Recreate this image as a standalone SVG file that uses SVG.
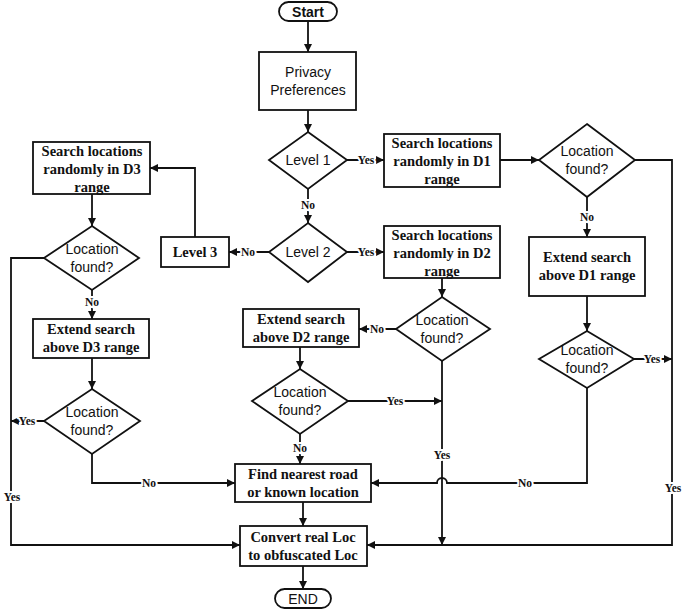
<svg xmlns="http://www.w3.org/2000/svg" width="685" height="609" viewBox="0 0 685 609">
<defs>
<marker id="ah" viewBox="0 0 8 8" refX="8" refY="4" markerWidth="8" markerHeight="8" markerUnits="userSpaceOnUse" orient="auto"><path d="M0,0 L8,4 L0,8 z" fill="#111"/></marker>
<style>
.s{fill:#fff;stroke:#111;stroke-width:1.8}
.c{fill:none;stroke:#111;stroke-width:1.8}
.a{marker-end:url(#ah)}
.t{font-family:"Liberation Serif",serif;font-weight:bold;font-size:14.5px;fill:#111;text-anchor:middle}
.d{font-family:"Liberation Sans",sans-serif;font-size:14px;fill:#111;text-anchor:middle}
.l{font-family:"Liberation Serif",serif;font-weight:bold;font-size:11.5px;fill:#111;text-anchor:middle;stroke:#fff;stroke-width:4;paint-order:stroke}
</style>
</defs>
<rect width="685" height="609" fill="#fff"/>
<g id="connectors">
<path class="c a" d="M308 21 V52"/>
<path class="c a" d="M308 110 V132"/>
<path class="c a" d="M347 160 H384"/>
<path class="c a" d="M308 189 V223"/>
<path class="c a" d="M347 252 H384"/>
<path class="c a" d="M269 252 H229"/>
<path class="c a" d="M195 237 V168 H150"/>
<path class="c a" d="M92 194 V226"/>
<path class="c a" d="M92 290 V319"/>
<path class="c a" d="M44 258 H11 V545 H240"/>
<path class="c a" d="M92 358 V389"/>
<path class="c a" d="M44 421 H11"/>
<path class="c a" d="M92 454 V483 H235"/>
<path class="c a" d="M500 160 H539"/>
<path class="c a" d="M587 197 V237"/>
<path class="c a" d="M635 160 H672 V545 H367"/>
<path class="c a" d="M587 296 V331"/>
<path class="c a" d="M634 359 H672"/>
<path class="c a" d="M587 388 V483 H447 A5 5 0 0 0 437 483 H371"/>
<path class="c a" d="M442 278 V297"/>
<path class="c a" d="M396 329 H359"/>
<path class="c a" d="M300 347 V369"/>
<path class="c a" d="M348 401 H442"/>
<path class="c a" d="M442 361 V545"/>
<path class="c a" d="M300 434 V464"/>
<path class="c a" d="M303 502 V526"/>
<path class="c a" d="M303 566 V589"/>
<text class="l" x="366" y="164">Yes</text>
<text class="l" x="308" y="209">No</text>
<text class="l" x="366" y="256">Yes</text>
<text class="l" x="248" y="256">No</text>
<text class="l" x="92" y="306">No</text>
<text class="l" x="12" y="501">Yes</text>
<text class="l" x="27" y="425">Yes</text>
<text class="l" x="149" y="487">No</text>
<text class="l" x="587" y="221">No</text>
<text class="l" x="673" y="492">Yes</text>
<text class="l" x="652" y="363">Yes</text>
<text class="l" x="525" y="487">No</text>
<text class="l" x="377" y="333">No</text>
<text class="l" x="395" y="405">Yes</text>
<text class="l" x="442" y="459">Yes</text>
<text class="l" x="300" y="452">No</text>
</g>
<g id="start"><rect class="s" x="279" y="2" width="58" height="19" rx="9.5"/><text class="d" x="308" y="16.5" font-weight="bold">Start</text></g>
<g id="privacy"><rect class="s" x="259" y="52" width="97" height="58"/><text class="d" x="308" y="77">Privacy</text><text class="d" x="308" y="95">Preferences</text></g>
<g id="level1"><polygon class="s" points="308,132 347,160 308,189 269,160"/><text class="d" x="308" y="165">Level 1</text></g>
<g id="level2"><polygon class="s" points="308,223 347,252 308,282 269,252"/><text class="d" x="308" y="257">Level 2</text></g>
<g id="level3"><rect class="s" x="161" y="237" width="68" height="30"/><text class="t" x="195" y="257">Level 3</text></g>
<g id="searchD1"><rect class="s" x="384" y="134" width="116" height="53"/><text class="t" x="442" y="148">Search locations</text><text class="t" x="442" y="166">randomly in D1</text><text class="t" x="442" y="184">range</text></g>
<g id="searchD2"><rect class="s" x="384" y="226" width="116" height="52"/><text class="t" x="442" y="240">Search locations</text><text class="t" x="442" y="258">randomly in D2</text><text class="t" x="442" y="276">range</text></g>
<g id="searchD3"><rect class="s" x="33" y="142" width="117" height="52"/><text class="t" x="92" y="156">Search locations</text><text class="t" x="92" y="174">randomly in D3</text><text class="t" x="92" y="192">range</text></g>
<g id="foundD1"><polygon class="s" points="587,124 635,160 587,197 539,160"/><text class="d" x="587" y="156">Location</text><text class="d" x="587" y="174">found?</text></g>
<g id="extendD1"><rect class="s" x="529" y="237" width="116" height="59"/><text class="t" x="587" y="262">Extend search</text><text class="t" x="587" y="280">above D1 range</text></g>
<g id="foundD1b"><polygon class="s" points="587,331 634,359 587,388 539,359"/><text class="d" x="587" y="355">Location</text><text class="d" x="587" y="373">found?</text></g>
<g id="foundD2"><polygon class="s" points="442,297 490,329 442,361 396,329"/><text class="d" x="442" y="325">Location</text><text class="d" x="442" y="343">found?</text></g>
<g id="extendD2"><rect class="s" x="243" y="309" width="116" height="38"/><text class="t" x="301" y="324">Extend search</text><text class="t" x="301" y="342">above D2 range</text></g>
<g id="foundD2b"><polygon class="s" points="300,369 348,401 300,434 252,401"/><text class="d" x="300" y="397">Location</text><text class="d" x="300" y="415">found?</text></g>
<g id="foundD3"><polygon class="s" points="92,226 139,258 92,290 44,258"/><text class="d" x="92" y="254">Location</text><text class="d" x="92" y="272">found?</text></g>
<g id="extendD3"><rect class="s" x="33" y="319" width="116" height="39"/><text class="t" x="91" y="334">Extend search</text><text class="t" x="91" y="352">above D3 range</text></g>
<g id="foundD3b"><polygon class="s" points="92,389 140,421 92,454 44,421"/><text class="d" x="92" y="417">Location</text><text class="d" x="92" y="435">found?</text></g>
<g id="find"><rect class="s" x="235" y="464" width="136" height="38"/><text class="t" x="303" y="479">Find nearest road</text><text class="t" x="303" y="497">or known location</text></g>
<g id="convert"><rect class="s" x="240" y="526" width="127" height="40"/><text class="t" x="303" y="542">Convert real Loc</text><text class="t" x="303" y="560">to obfuscated Loc</text></g>
<g id="end"><rect class="s" x="275" y="589" width="56" height="19" rx="9.5"/><text class="d" x="303" y="603.5">END</text></g>
</svg>
